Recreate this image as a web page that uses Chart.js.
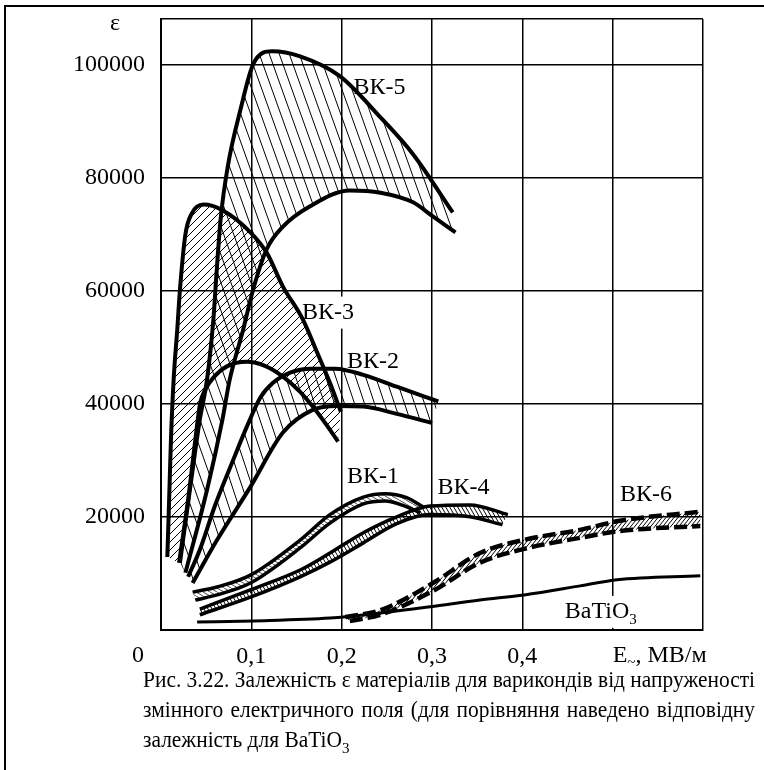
<!DOCTYPE html>
<html>
<head>
<meta charset="utf-8">
<script src="https://cdn.jsdelivr.net/npm/chart.js@4.4.1/dist/chart.umd.min.js"></script>
<style>
  html, body { margin: 0; padding: 0; background: #fff; }
</style>
</head>
<body>
<canvas id="eps" width="764" height="770"></canvas>
<script>
// E~ in MV/m, permittivity ε; each varicond material has an upper and a lower bound
const vk5HiX = [0.021, 0.032, 0.043, 0.051, 0.058, 0.061, 0.066, 0.074, 0.088, 0.102, 0.123, 0.154, 0.198, 0.243, 0.279, 0.323];
const vk5HiY = [11900, 24800, 37200, 44300, 54900, 62000, 72600, 82000, 92000, 100000, 102300, 101400, 97900, 90600, 84100, 73800];
const vk5LoX = [0.027, 0.051, 0.068, 0.076, 0.091, 0.102, 0.117, 0.135, 0.165, 0.209, 0.243, 0.279, 0.301, 0.326];
const vk5LoY = [10100, 24800, 37200, 44200, 53100, 60200, 67300, 71300, 74900, 77700, 77300, 75600, 73100, 70300];

const vk3HiX = [0.007, 0.009, 0.011, 0.014, 0.018, 0.021, 0.027, 0.034, 0.047, 0.068, 0.099, 0.117, 0.135, 0.157, 0.173, 0.187, 0.199];
const vk3HiY = [12900, 23000, 33600, 44300, 53100, 60200, 69900, 73600, 75200, 74200, 70300, 66700, 60700, 54900, 49000, 43700, 38600];
const vk3LoX = [0.020, 0.030, 0.038, 0.043, 0.049, 0.058, 0.073, 0.095, 0.115, 0.135, 0.154, 0.168, 0.183, 0.196];
const vk3LoY = [11900, 23000, 33600, 39800, 42500, 44600, 46600, 47400, 46700, 44800, 42100, 39500, 36300, 33300];

const vk2HiX = [0.030, 0.043, 0.060, 0.080, 0.096, 0.110, 0.124, 0.143, 0.165, 0.193, 0.224, 0.261, 0.307];
const vk2HiY = [9400, 14200, 22100, 30100, 36300, 41100, 43700, 45500, 46200, 46200, 45100, 43000, 40400];
const vk2LoX = [0.035, 0.062, 0.099, 0.135, 0.168, 0.195, 0.224, 0.261, 0.300];
const vk2LoY = [8300, 15900, 25300, 34900, 38900, 39600, 39500, 38200, 36600];

const vk1HiX = [0.035, 0.062, 0.099, 0.154, 0.187, 0.224, 0.248, 0.272, 0.290];
const vk1HiY = [6700, 7600, 9700, 15900, 20400, 23500, 24100, 23400, 21800];
const vk1LoX = [0.038, 0.062, 0.099, 0.154, 0.187, 0.224, 0.248, 0.270, 0.287];
const vk1LoY = [5300, 6200, 8300, 14500, 18900, 22300, 22800, 21900, 20700];

const vk4HiX = [0.043, 0.099, 0.154, 0.187, 0.224, 0.261, 0.298, 0.342, 0.384];
const vk4HiY = [3700, 7100, 10600, 13600, 17200, 20000, 21900, 22100, 20400];
const vk4LoX = [0.043, 0.099, 0.154, 0.187, 0.224, 0.261, 0.298, 0.342, 0.378];
const vk4LoY = [2700, 5800, 9400, 12000, 15400, 18800, 20400, 20000, 18600];

const vk6HiX = [0.204, 0.243, 0.301, 0.353, 0.401, 0.464, 0.508, 0.597];
const vk6HiY = [2300, 3500, 8300, 13600, 15900, 17700, 19300, 20900];
const vk6LoX = [0.209, 0.243, 0.301, 0.353, 0.401, 0.464, 0.508, 0.597];
const vk6LoY = [1600, 2700, 6900, 11900, 14300, 16300, 17500, 18400];

const btoX = [0.040, 0.102, 0.187, 0.243, 0.298, 0.353, 0.402, 0.464, 0.505, 0.597];
const btoY = [1400, 1600, 2100, 3000, 4100, 5300, 6200, 7800, 8900, 9600];

// axis ticks; the last ε value is only the top edge of the grid
const eTicks = [0, 0.1, 0.2, 0.3, 0.4, 0.5, 0.6];
const epsTicks = [0, 20000, 40000, 60000, 80000, 100000, 108000];

// curve names, anchored in data units (left edge, vertical middle)
const curveLabels = [
  {text: 'ВК-5', x: 0.213, y: 95900},
  {text: 'ВК-3', x: 0.156, y: 56100},
  {text: 'ВК-2', x: 0.206, y: 47400},
  {text: 'ВК-1', x: 0.206, y: 27100},
  {text: 'ВК-4', x: 0.306, y: 25100},
  {text: 'ВК-6', x: 0.508, y: 23900},
  {text: 'BaTiO', sub: '3', x: 0.447, y: 3200}
];

const caption = [
  'Рис. 3.22. Залежність ε матеріалів для варикондів від напруженості',
  'змінного електричного поля (для порівняння наведено відповідну',
  'залежність для BaTiO'
];

const SERIF = "'Liberation Serif', 'Times New Roman', serif";
Chart.defaults.font.family = SERIF;
Chart.defaults.color = '#000';

const canvas = document.getElementById('eps');
const ctx0 = canvas.getContext('2d');

// diagonal hatch tile; dir 1 = '/', -1 = '\'
function hatch(step, rise, dir, width) {
  const c = document.createElement('canvas');
  c.width = step; c.height = rise;
  const g = c.getContext('2d');
  g.strokeStyle = '#000';
  g.lineWidth = width;
  for (const off of [-step, 0, step]) {
    g.beginPath();
    if (dir > 0) { g.moveTo(off, rise); g.lineTo(off + step, 0); }
    else { g.moveTo(off, 0); g.lineTo(off + step, rise); }
    g.stroke();
  }
  return ctx0.createPattern(c, 'repeat');
}

const pts = (xs, ys) => xs.map((x, i) => ({x, y: ys[i]}));

function curve(label, xs, ys, extra) {
  return Object.assign({
    label,
    data: pts(xs, ys),
    borderColor: '#000',
    borderWidth: 4,
    pointRadius: 0,
    cubicInterpolationMode: 'monotone',
    fill: false
  }, extra || {});
}

// fills the gap between a dataset and the next one with its hatch
const bands = {
  id: 'bands',
  beforeDatasetsDraw(chart) {
    const {ctx, chartArea: a} = chart;
    ctx.save();
    ctx.beginPath();
    ctx.rect(a.left, a.top, a.right - a.left, a.bottom - a.top);
    ctx.clip();
    chart.data.datasets.forEach((ds, i) => {
      if (!ds.hatch) return;
      const hi = chart.getDatasetMeta(i).dataset;
      const lo = chart.getDatasetMeta(i + 1).dataset;
      ctx.beginPath();
      hi.pathSegment(ctx, hi.segments[0], {move: true});
      lo.pathSegment(ctx, lo.segments[0], {move: false, reverse: true});
      ctx.closePath();
      ctx.fillStyle = ds.hatch;
      ctx.fill();
    });
    ctx.restore();
  }
};

function drawName(ctx, l, px, py) {
  ctx.fillText(l.text, px, py);
  if (l.sub) {
    const w = ctx.measureText(l.text).width;
    ctx.save();
    ctx.font = '15px ' + SERIF;
    ctx.fillText(l.sub, px + w, py + 8);
    ctx.restore();
  }
}

// spreads words over [x0, x1], squeezing the line if it does not fit
function justified(ctx, text, x0, x1, y, k) {
  const words = text.split(' ');
  const widths = words.map(w => ctx.measureText(w).width);
  const sum = widths.reduce((s, w) => s + w, 0);
  const space = ctx.measureText(' ').width;
  if (k === undefined) {
    k = Math.min(1, (x1 - x0) / (sum + space * (words.length - 1)));
  }
  const gap = x1 === null ? space : ((x1 - x0) / k - sum) / (words.length - 1);
  ctx.save();
  ctx.translate(x0, y);
  ctx.scale(k, 1);
  let cx = 0;
  words.forEach((w, i) => { ctx.fillText(w, cx, 0); cx += widths[i] + gap; });
  ctx.restore();
  return {k, end: x0 + (cx - gap) * k};
}

const notes = {
  id: 'notes',
  beforeDatasetsDraw(chart) {
    const {ctx, scales: {x, y}} = chart;
    ctx.save();
    ctx.font = '24px ' + SERIF;
    ctx.fillStyle = '#fff';
    curveLabels.forEach(l => {
      const px = x.getPixelForValue(l.x), py = y.getPixelForValue(l.y);
      const w = ctx.measureText(l.text).width + (l.sub ? 9 : 0);
      ctx.fillRect(px - 4, py - 16, w + 8, 32);
    });
    ctx.restore();
  },
  afterDatasetsDraw(chart) {
    const {ctx, scales: {x, y}} = chart;
    ctx.save();
    ctx.font = '24px ' + SERIF;
    ctx.fillStyle = '#000';
    ctx.textBaseline = 'middle';
    curveLabels.forEach(l => drawName(ctx, l, x.getPixelForValue(l.x), y.getPixelForValue(l.y)));
    ctx.restore();
  },
  afterDraw(chart) {
    const {ctx, chartArea: a, scales: {x}} = chart;
    ctx.save();
    // page frame
    ctx.strokeStyle = '#000';
    ctx.lineWidth = 2;
    ctx.beginPath();
    ctx.moveTo(5, 770); ctx.lineTo(5, 6); ctx.lineTo(764, 6);
    ctx.stroke();

    ctx.fillStyle = '#000';
    ctx.font = '24px ' + SERIF;
    ctx.textBaseline = 'middle';
    ctx.textAlign = 'center';
    ctx.fillText('ε', a.left - 46, 24);
    ctx.fillText('0', x.getPixelForValue(0) - 23, a.bottom + 26);

    // axis name E~, МВ/м
    ctx.textAlign = 'left';
    let px = x.getPixelForValue(0.5);
    const ny = a.bottom + 26;
    ctx.fillText('E', px, ny);
    px += ctx.measureText('E').width;
    ctx.font = '15px ' + SERIF;
    ctx.fillText('~', px, ny + 7);
    px += ctx.measureText('~').width;
    ctx.font = '24px ' + SERIF;
    ctx.fillText(', МВ/м', px, ny);

    // caption
    const first = justified(ctx, caption[0], 143, 755, 681);
    justified(ctx, caption[1], 143, 755, 711, first.k);
    const last = justified(ctx, caption[2], 143, null, 741, first.k);
    ctx.font = '15px ' + SERIF;
    ctx.fillText('3', last.end, 749);
    ctx.restore();
  }
};

new Chart(canvas, {
  type: 'line',
  data: {
    datasets: [
      curve('ВК-5 max', vk5HiX, vk5HiY, {hatch: hatch(10, 28, -1, 1)}),
      curve('ВК-5 min', vk5LoX, vk5LoY),
      curve('ВК-3 max', vk3HiX, vk3HiY, {hatch: hatch(8, 8, 1, 1)}),
      curve('ВК-3 min', vk3LoX, vk3LoY),
      curve('ВК-2 max', vk2HiX, vk2HiY, {hatch: hatch(10, 30, -1, 1)}),
      curve('ВК-2 min', vk2LoX, vk2LoY),
      curve('ВК-1 max', vk1HiX, vk1HiY, {hatch: hatch(7, 4, -1, 0.7), borderWidth: 3.5}),
      curve('ВК-1 min', vk1LoX, vk1LoY, {borderWidth: 3.5}),
      curve('ВК-4 max', vk4HiX, vk4HiY, {hatch: hatch(4, 7, -1, 1), borderWidth: 3.5}),
      curve('ВК-4 min', vk4LoX, vk4LoY, {borderWidth: 3.5}),
      curve('ВК-6 max', vk6HiX, vk6HiY, {hatch: hatch(4, 5, 1, 1), borderWidth: 4.5, borderDash: [13, 5]}),
      curve('ВК-6 min', vk6LoX, vk6LoY, {borderWidth: 4.5, borderDash: [13, 5]}),
      curve('BaTiO3', btoX, btoY, {borderWidth: 3})
    ]
  },
  options: {
    responsive: false,
    animation: false,
    events: [],
    layout: {padding: {top: 19, right: 61, left: 0, bottom: 0}},
    plugins: {legend: {display: false}, tooltip: {enabled: false}},
    scales: {
      x: {
        type: 'linear',
        min: 0,
        max: 0.6,
        afterBuildTicks: s => { s.ticks = eTicks.map(value => ({value})); },
        ticks: {
          autoSkip: false,
          maxRotation: 0,
          padding: 12,
          font: {size: 24},
          callback: v => {
            const t = Math.round(v * 10);
            return t >= 1 && t <= 4 ? '0,' + t : '';
          }
        },
        grid: {color: '#000', lineWidth: 1.5, drawTicks: false},
        border: {color: '#000', width: 2},
        afterFit: s => { s.height = 140; s.paddingLeft = 0; s.paddingRight = 0; }
      },
      y: {
        min: 0,
        max: 108000,
        afterBuildTicks: s => { s.ticks = epsTicks.map(value => ({value})); },
        ticks: {
          autoSkip: false,
          padding: 16,
          font: {size: 24},
          callback: v => (v > 0 && v <= 100000 ? String(v) : '')
        },
        grid: {color: '#000', lineWidth: 1.5, drawTicks: false},
        border: {color: '#000', width: 2},
        afterFit: s => { s.width = 161; s.paddingTop = 0; s.paddingBottom = 0; }
      }
    }
  },
  plugins: [notes, bands]
});
</script>
</body>
</html>
